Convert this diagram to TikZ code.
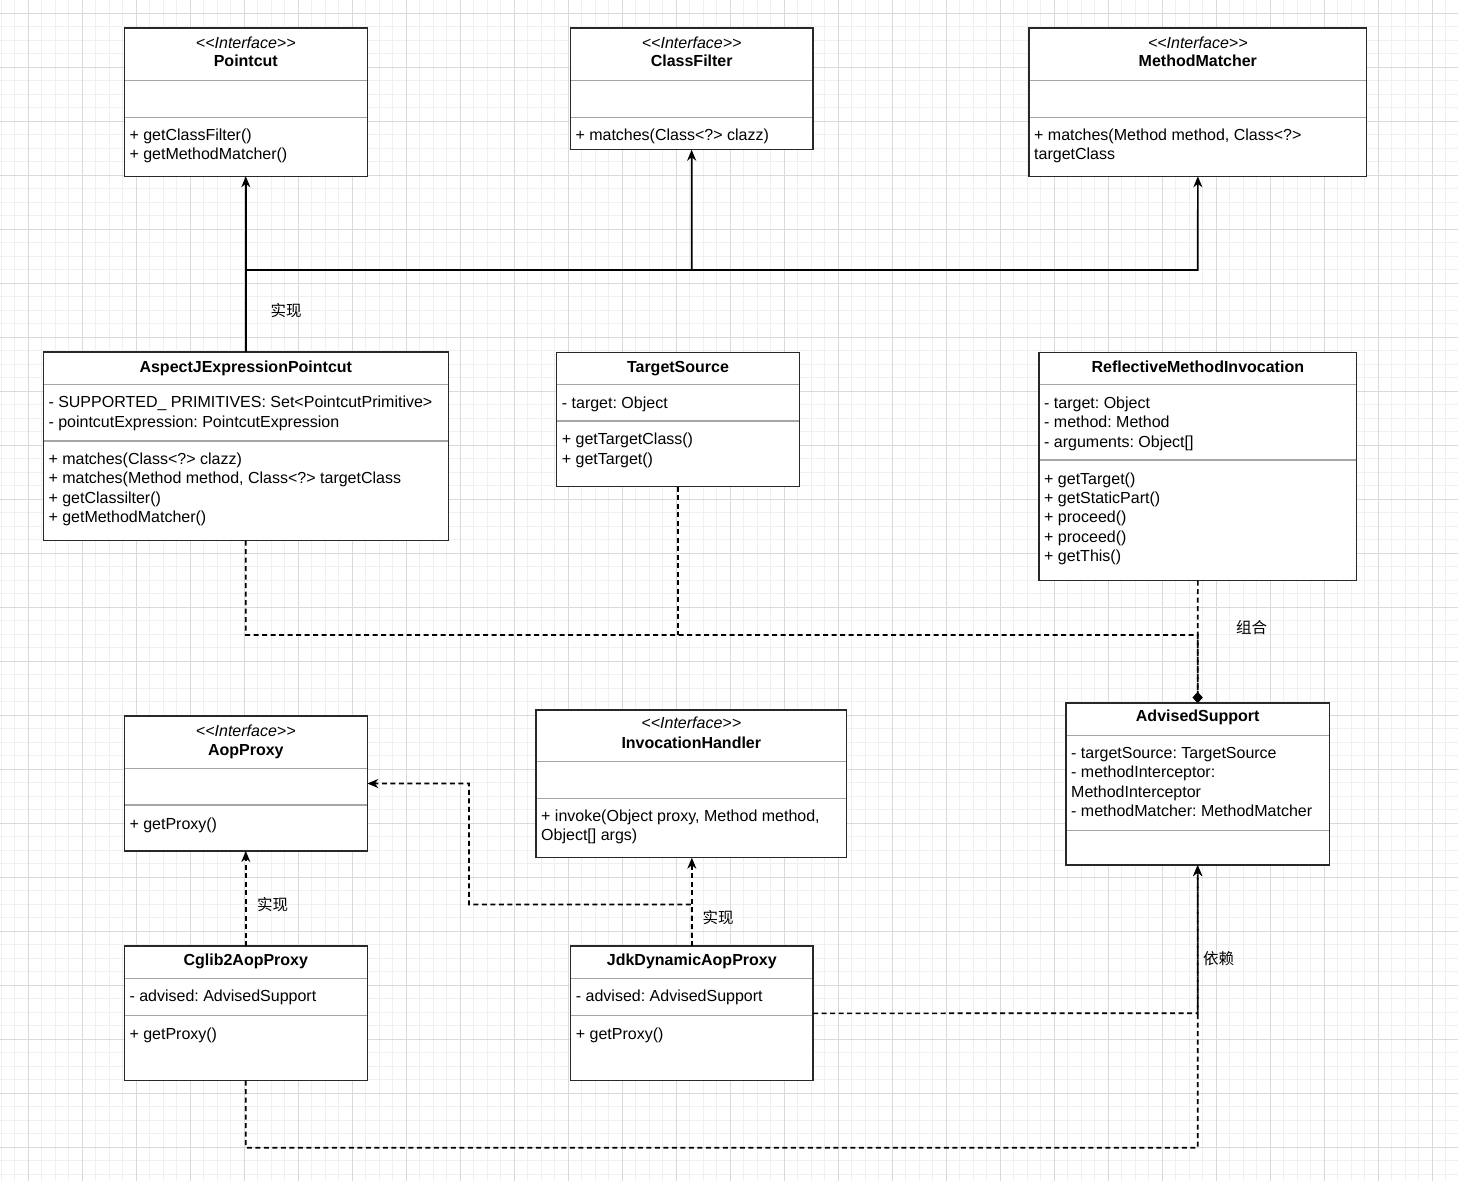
\documentclass[tikz,border=0pt]{standalone}
\usepackage{fontspec}
\setmainfont{Liberation Sans}[Ligatures=TeXOff]
\newfontfamily\cjk{Noto Sans CJK SC}
\usetikzlibrary{arrows.meta}
\definecolor{boxc}{RGB}{40,40,40}
\definecolor{sepc}{RGB}{165,165,165}
\definecolor{gmaj}{RGB}{218,218,218}
\definecolor{gmin}{RGB}{240,240,240}
\frenchspacing
\newcommand\mysz{\fontsize{16}{19.5}\selectfont}
\newcommand\umlbox[5]{\pgfmathsetmacro\bw{#4-#2}\pgfmathsetmacro\bh{#5-#3}\node[cls, minimum width=\bw pt, minimum height=\bh pt] (#1) at (#2,#3) {};}
\tikzset{
  cls/.style={draw=boxc, line width=1.5pt, fill=white, inner sep=0pt, outer sep=0pt, anchor=north west},
  sepl/.style={draw=sepc, line width=1.1pt},
  tx/.style={anchor=base west, inner sep=0pt, font=\mysz},
  ttl/.style={anchor=base, inner sep=0pt, font=\mysz\bfseries},
  ster/.style={anchor=base, inner sep=0pt, font=\mysz\itshape},
  conn/.style={line width=1.7pt, draw=black},
  dsh/.style={conn, dash pattern=on 5pt off 3.5pt},
  arr/.style={-{Stealth[length=11pt,width=9pt,inset=3.5pt]}},
  comp/.style={-{Diamond[length=11pt,width=10pt]}},
  lbl/.style={font=\cjk\fontsize{15.5}{18}\selectfont, inner sep=0pt}
}
\begin{document}
\begin{tikzpicture}[x=1pt,y=-1pt]
\useasboundingbox (0,0) rectangle (1458,1181);
\fill[white] (0,0) rectangle (1458,1181);
% grid
\foreach \i in {0,...,107} \draw[gmin, line width=0.9pt] (1.3+13.5*\i,0) -- (1.3+13.5*\i,1181);
\foreach \i in {1,...,87} \draw[gmin, line width=0.9pt] (0,-0.2+13.5*\i) -- (1458,-0.2+13.5*\i);
\foreach \i in {0,...,26} \draw[gmaj, line width=1pt] (28.3+54*\i,0) -- (28.3+54*\i,1181);
\foreach \i in {0,...,21} \draw[gmaj, line width=1pt] (0,13.3+54*\i) -- (1458,13.3+54*\i);

% ---------- boxes ----------
\umlbox{pc}{124.3}{28}{367.3}{176.3}
\umlbox{cf}{570.3}{28}{813}{149.7}
\umlbox{mm}{1029}{28}{1366.7}{176.3}
\umlbox{ajp}{43.3}{352}{448.3}{540.7}
\umlbox{ts}{556.7}{352.3}{799.3}{486.7}
\umlbox{rmi}{1039}{352.3}{1356.7}{580.7}
\umlbox{ap}{124.3}{716}{367.3}{851}
\umlbox{ih}{536}{710}{846.7}{857.7}
\umlbox{as}{1066}{703}{1329.3}{865}
\umlbox{cg}{124.3}{946}{367.3}{1080.7}
\umlbox{jdk}{570.7}{946}{813}{1080.7}

% separators
\draw[sepl] (125,80.3) -- (366.6,80.3);   \draw[sepl] (125,117.3) -- (366.6,117.3);
\draw[sepl] (571,80.3) -- (812.3,80.3);   \draw[sepl] (571,117.3) -- (812.3,117.3);
\draw[sepl] (1029.7,80.7) -- (1366,80.7); \draw[sepl] (1029.7,117.7) -- (1366,117.7);
\draw[sepl] (44,384.3) -- (447.6,384.3);  \draw[sepl] (44,441) -- (447.6,441);
\draw[sepl] (557.4,384.3) -- (798.6,384.3); \draw[sepl] (557.4,421) -- (798.6,421);
\draw[sepl] (1039.7,384.3) -- (1356,384.3); \draw[sepl] (1039.7,460) -- (1356,460);
\draw[sepl] (125,768.3) -- (366.6,768.3); \draw[sepl] (125,805) -- (366.6,805);
\draw[sepl] (536.7,761.7) -- (846,761.7); \draw[sepl] (536.7,798.7) -- (846,798.7);
\draw[sepl] (1066.7,735.3) -- (1328.6,735.3); \draw[sepl] (1066.7,830.7) -- (1328.6,830.7);
\draw[sepl] (125,978.3) -- (366.6,978.3); \draw[sepl] (125,1015.7) -- (366.6,1015.7);
\draw[sepl] (571.4,978.3) -- (812.3,978.3); \draw[sepl] (571.4,1015.7) -- (812.3,1015.7);

% ---------- texts ----------
% Pointcut
\node[ster] (pcs) at (245.8,48) {<<Interface>>};
\node[ttl] (pct) at (245.8,66) {Pointcut};
\node[tx] (pcm1) at (129.3,140) {+ getClassFilter()};
\node[tx] (pcm2) at (129.3,159.7) {+ getMethodMatcher()};
% ClassFilter
\node[ster] (cfs) at (691.7,48) {<<Interface>>};
\node[ttl] (cft) at (691.7,66) {ClassFilter};
\node[tx] (cfm1) at (575.3,140) {+ matches(Class<?> clazz)};
% MethodMatcher
\node[ster] (mms) at (1197.8,48) {<<Interface>>};
\node[ttl] (mmt) at (1197.8,66) {MethodMatcher};
\node[tx] (mmm1) at (1034,140) {+ matches(Method method, Class<?>};
\node[tx] (mmm2) at (1034,159.7) {targetClass};
% AspectJExpressionPointcut
\node[ttl] (ajpt) at (245.8,372.5) {AspectJExpressionPointcut};
\node[tx] (ajpa1) at (48.3,407.5) {- SUPPORTED\_ PRIMITIVES: Set<PointcutPrimitive>};
\node[tx] (ajpa2) at (48.3,427) {- pointcutExpression: PointcutExpression};
\node[tx] (ajpm1) at (48.3,464) {+ matches(Class<?> clazz)};
\node[tx] (ajpm2) at (48.3,483.5) {+ matches(Method method, Class<?> targetClass};
\node[tx] (ajpm3) at (48.3,503) {+ getClassilter()};
\node[tx] (ajpm4) at (48.3,522.7) {+ getMethodMatcher()};
% TargetSource
\node[ttl] (tst) at (678,372.5) {TargetSource};
\node[tx] (tsa1) at (561.7,408) {- target: Object};
\node[tx] (tsm1) at (561.7,444.5) {+ getTargetClass()};
\node[tx] (tsm2) at (561.7,464) {+ getTarget()};
% ReflectiveMethodInvocation
\node[ttl] (rmit) at (1197.8,372.5) {ReflectiveMethodInvocation};
\node[tx] (rmia1) at (1044,408.3) {- target: Object};
\node[tx] (rmia2) at (1044,427.5) {- method: Method};
\node[tx] (rmia3) at (1044,447) {- arguments: Object[]};
\node[tx] (rmim1) at (1044,484) {+ getTarget()};
\node[tx] (rmim2) at (1044,503.3) {+ getStaticPart()};
\node[tx] (rmim3) at (1044,522.7) {+ proceed()};
\node[tx] (rmim4) at (1044,542) {+ proceed()};
\node[tx] (rmim5) at (1044,561.3) {+ getThis()};
% AopProxy
\node[ster] (aps) at (245.8,736) {<<Interface>>};
\node[ttl] (apt) at (245.8,755) {AopProxy};
\node[tx] (apm1) at (129.3,829) {+ getProxy()};
% InvocationHandler
\node[ster] (ihs) at (691.3,728.3) {<<Interface>>};
\node[ttl] (iht) at (691.3,748.3) {InvocationHandler};
\node[tx] (ihm1) at (541,821.7) {+ invoke(Object proxy, Method method,};
\node[tx] (ihm2) at (541,840.7) {Object[] args)};
% AdvisedSupport
\node[ttl] (ast) at (1197.7,721.7) {AdvisedSupport};
\node[tx] (asa1) at (1071,758.3) {- targetSource: TargetSource};
\node[tx] (asa2) at (1071,777.5) {- methodInterceptor:};
\node[tx] (asa3) at (1071,797) {MethodInterceptor};
\node[tx] (asa4) at (1071,816.3) {- methodMatcher: MethodMatcher};
% Cglib2AopProxy
\node[ttl] (cgt) at (245.8,965) {Cglib2AopProxy};
\node[tx] (cga1) at (129.3,1001.7) {- advised: AdvisedSupport};
\node[tx] (cgm1) at (129.3,1039.3) {+ getProxy()};
% JdkDynamicAopProxy
\node[ttl] (jdkt) at (691.8,965) {JdkDynamicAopProxy};
\node[tx] (jdka1) at (575.7,1001.7) {- advised: AdvisedSupport};
\node[tx] (jdkm1) at (575.7,1039.3) {+ getProxy()};

% ---------- connectors ----------
\coordinate (j1) at (245.8,270);
\coordinate (j2) at (691.7,270);
\coordinate (j3) at (1197.8,270);
\draw[conn, arr] (ajp.north) -- (pc.south);
\draw[conn, arr] (j1) -- (j2) -- (cf.south);
\draw[conn, arr] (j2) -- (j3) -- (mm.south);

\coordinate (c1) at (245.8,635);
\coordinate (c2) at (678,635);
\coordinate (c3) at (1197.7,635);
\draw[dsh, comp] (ajp.south) -- (c1) -- (c3) -- (as.north);
\draw[dsh] (ts.south) -- (c2);
\draw[dsh, comp] (rmi.south) -- (as.north);

\draw[dsh, arr] (cg.north) -- (ap.south);
\draw[dsh, arr] (jdk.north) -- (jdk.north |- ih.south);
\coordinate (k1) at (691.8,904.5);
\coordinate (k2) at (469,904.5);
\coordinate (k3) at (469,783.5);
\draw[dsh, arr] (jdk.north) -- (k1) -- (k2) -- (k3) -- (ap.east);

\coordinate (d1) at (1197.7,1013.3);
\coordinate (d2) at (245.8,1147.7);
\coordinate (d3) at (1197.7,1147.7);
\draw[dsh, arr] (jdk.east) -- (d1) -- (as.south);
\draw[dsh, arr] (cg.south) -- (d2) -- (d3) -- (as.south);

% labels
\node[lbl] (l1) at (286,311) {实现};
\node[lbl] (l2) at (1251.5,628) {组合};
\node[lbl] (l3) at (272.5,905) {实现};
\node[lbl] (l4) at (718,918) {实现};
\node[lbl] (l5) at (1218.5,959) {依赖};
\end{tikzpicture}
\end{document}
